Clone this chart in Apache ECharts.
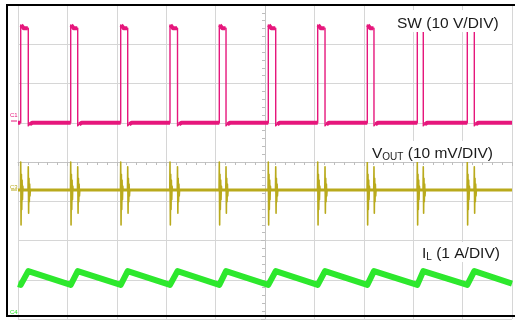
<!DOCTYPE html>
<html>
<head>
<meta charset="utf-8">
<script src="https://cdn.jsdelivr.net/npm/echarts@6/dist/echarts.min.js"></script>
<style>
  html, body { margin: 0; padding: 0; background: #fff; }
  #scope { width: 515px; height: 320px; }
</style>
</head>
<body>
<div id="scope"></div>
<script>
  // time in screen divisions, 0 = centre of the graticule
  const riseT = [-4.945, -3.933, -2.921, -1.923, -0.925, 0.067, 1.067, 2.071, 3.083, 4.095]
  const fallT = [-4.792, -3.791, -2.779, -1.771, -0.789, 0.217, 1.215, 2.206, 3.204, 4.237]

  // C1 - SW node, volts (10 V/DIV), ground marker at +1 div
  const swLow = 0
  const swHigh = 24.1
  const swPeak = 24.9
  const swDip = -0.8

  // C3 - VOUT ripple, mV (10 mV/DIV), marker at -0.71 div
  const ringOn = [7.1, -8.9, 4, -5, 2.5, -2.5, 1, 0]   // at switch turn-on
  const ringOff = [5.9, -5.9, 3, -3, 1.5, -1.5, 0]    // at switch turn-off

  // C4 - inductor current, A (1 A/DIV), marker at -3.85 div
  const ilValley = 0.72
  const ilPeak = 1.07
  const ilStart = 0.74
  const ilEnd = 0.75

  const T0 = -5, T1 = 5
  const sw = v => 1.0 + v / 10
  const vo = v => -0.713 + v / 10
  const il = v => -3.85 + v / 1

  // SW: thin edges + thick (noisy) levels
  let swThin = [[T0, sw(swLow)]]
  let swThick = [[T0, sw(swLow)]]
  riseT.forEach((r, i) => {
    let f = fallT[i]
    let next = i < riseT.length - 1 ? riseT[i + 1] : T1
    swThin.push([r, sw(swLow)], [r, sw(swPeak)], [r + 0.05, sw(swHigh)], [f, sw(swHigh)], [f, sw(swDip)], [f + 0.06, sw(swLow)])
    swThick.push([r - 0.01, sw(swLow)], [r, '-'])
    swThick.push([r + 0.01, sw(swPeak)], [r + 0.06, sw(swHigh)], [f - 0.01, sw(swHigh)], [f, '-'])
    swThick.push([f + 0.03, sw(swDip / 2)], [f + 0.08, sw(swLow)], [next, sw(swLow)])
  })
  swThin.push([T1, sw(swLow)])

  // VOUT: ringing at both switch edges
  let voThin = [[T0, vo(0)]]
  riseT.forEach((r, i) => {
    let f = fallT[i]
    voThin.push([r - 0.005, vo(0)])
    ringOn.forEach((v, k) => voThin.push([r + k * 0.007, vo(v)]))
    voThin.push([f - 0.005, vo(0)])
    ringOff.forEach((v, k) => voThin.push([f + k * 0.007, vo(v)]))
  })
  voThin.push([T1, vo(0)])
  let voBase = [[T0, vo(0)], [T1, vo(0)]]

  // IL: sawtooth, valley at turn-on, peak at turn-off
  let ilLine = [[T0, il(ilStart)]]
  riseT.forEach((r, i) => {
    ilLine.push([r, il(ilValley)], [fallT[i], il(ilPeak)])
  })
  ilLine.push([T1, il(ilEnd)])

  const pink = '#e6177c'
  const olive = '#b9aa1c'
  const green = '#2de82d'
  const labelFont = '"Liberation Sans", Arial, sans-serif'

  function lineSeries(name, data, color, width) {
    return {
      name: name,
      type: 'line',
      data: data,
      showSymbol: false,
      symbol: 'none',
      animation: false,
      silent: true,
      lineStyle: { color: color, width: width, join: 'round' },
      z: 3
    }
  }

  let chart = echarts.init(document.getElementById('scope'))
  chart.setOption({
    backgroundColor: '#fff',
    animation: false,
    grid: { left: 18, right: 3, top: 5, bottom: 1, containLabel: false },
    xAxis: {
      type: 'value', min: -5, max: 5, interval: 1,
      axisLine: { show: true, onZero: true, lineStyle: { color: '#c4c4c4', width: 1 } },
      axisTick: { show: true, length: 4, lineStyle: { color: '#bdbdbd' } },
      minorTick: { show: true, splitNumber: 5, length: 3, lineStyle: { color: '#bdbdbd' } },
      axisLabel: { show: false },
      splitLine: { show: true, lineStyle: { color: '#d6d6d6', width: 1 } }
    },
    yAxis: {
      type: 'value', min: -4, max: 4, interval: 1,
      axisLine: { show: true, onZero: true, lineStyle: { color: '#c4c4c4', width: 1 } },
      axisTick: { show: true, length: 4, lineStyle: { color: '#bdbdbd' } },
      minorTick: { show: true, splitNumber: 5, length: 3, lineStyle: { color: '#bdbdbd' } },
      axisLabel: { show: false },
      splitLine: { show: true, lineStyle: { color: '#d6d6d6', width: 1 } }
    },
    series: [
      lineSeries('IL', ilLine, green, 6),
      lineSeries('VOUT base', voBase, olive, 3),
      lineSeries('VOUT', voThin, olive, 1.6),
      lineSeries('SW level', swThick, pink, 4),
      lineSeries('SW', swThin, pink, 1.4)
    ],
    graphic: [
      { type: 'rect', z: 50, shape: { x: 391, y: 10, width: 116, height: 22 }, style: { fill: '#fff' } },
      { type: 'text', z: 51, x: 397, y: 16,
        style: { text: 'SW (10 V/DIV)', fill: '#1a1a1a', fontSize: 15.5, fontFamily: labelFont, align: 'left', verticalAlign: 'top' } },
      { type: 'rect', z: 50, shape: { x: 366, y: 141, width: 132, height: 21 }, style: { fill: '#fff' } },
      { type: 'text', z: 51, x: 372, y: 144,
        style: {
          text: '{m|V}{s|OUT}{m| (10 mV/DIV)}', align: 'left', verticalAlign: 'top',
          rich: {
            m: { fontSize: 15.5, fontFamily: labelFont, fill: '#1a1a1a', verticalAlign: 'bottom', lineHeight: 18 },
            s: { fontSize: 10, fontFamily: labelFont, fill: '#1a1a1a', verticalAlign: 'bottom', lineHeight: 18 }
          }
        } },
      { type: 'rect', z: 50, shape: { x: 417, y: 242, width: 88, height: 20 }, style: { fill: '#fff' } },
      { type: 'text', z: 51, x: 422, y: 244,
        style: {
          text: '{m|I}{s|L}{m| (1 A/DIV)}', align: 'left', verticalAlign: 'top',
          rich: {
            m: { fontSize: 15.5, fontFamily: labelFont, fill: '#1a1a1a', verticalAlign: 'bottom', lineHeight: 18 },
            s: { fontSize: 10, fontFamily: labelFont, fill: '#1a1a1a', verticalAlign: 'bottom', lineHeight: 18 }
          }
        } },
      // channel markers
      { type: 'text', z: 51, x: 10, y: 112, style: { text: 'C1', fill: pink, fontSize: 6, fontFamily: labelFont } },
      { type: 'line', z: 51, shape: { x1: 11, y1: 121, x2: 17, y2: 121 }, style: { stroke: pink, lineWidth: 1 } },
      { type: 'text', z: 51, x: 10, y: 184, style: { text: 'C3', fill: olive, fontSize: 6, fontFamily: labelFont } },
      { type: 'line', z: 51, shape: { x1: 11, y1: 190, x2: 17, y2: 190 }, style: { stroke: olive, lineWidth: 1 } },
      { type: 'text', z: 51, x: 10, y: 309, style: { text: 'C4', fill: green, fontSize: 6, fontFamily: labelFont } },
      // screenshot frame
      { type: 'rect', z: 60, shape: { x: 7, y: 5, width: 520, height: 311 }, style: { fill: 'none', stroke: '#000', lineWidth: 2 } }
    ]
  })
</script>
</body>
</html>
